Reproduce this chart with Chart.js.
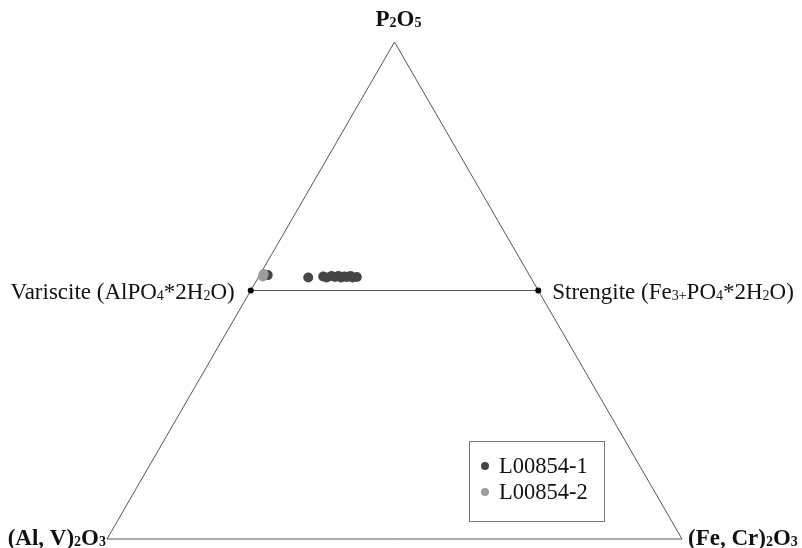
<!DOCTYPE html>
<html>
<head>
<meta charset="utf-8">
<script src="https://cdn.jsdelivr.net/npm/chart.js@4.4.1/dist/chart.umd.min.js"></script>
<style>
  html, body { margin: 0; padding: 0; background: #fff; }
  #wrap { width: 802px; height: 548px; }
</style>
</head>
<body>
<div id="wrap"><canvas id="ternary"></canvas></div>
<script>
// sample names
const seriesNames = ['L00854-1', 'L00854-2'];
const seriesColors = ['#454545', '#9c9c9c'];

// ternary fractions (P2O5 and (Fe,Cr)2O3), the rest is (Al,V)2O3
const p2o5_1 = [0.531, 0.526, 0.528, 0.526, 0.529, 0.527, 0.529, 0.526, 0.528, 0.527, 0.529, 0.526, 0.527];
const fe_1   = [0.014, 0.087, 0.112, 0.119, 0.126, 0.133, 0.138, 0.144, 0.149, 0.154, 0.159, 0.164, 0.171];
const p2o5_2 = [0.528, 0.533];
const fe_2   = [0.007, 0.006];

// corners and the variscite-strengite join [P2O5, Fe]
const corners = [[1, 0], [0, 0], [0, 1]];
const joinLine = [[0.5, 0], [0.5, 0.5]];

const H = Math.sqrt(3) / 2;
function toXY(p, fe) {
    return { x: fe + p / 2, y: p * H };
}

let pts1 = p2o5_1.map((p, i) => toXY(p, fe_1[i]));
let pts2 = p2o5_2.map((p, i) => toXY(p, fe_2[i]));
let triangle = corners.concat([corners[0]]).map(c => toXY(c[0], c[1]));
let join = joinLine.map(c => toXY(c[0], c[1]));

const serif = "'Liberation Serif', 'Times New Roman', serif";

// draw text with subscript parts: [[text, isSub], ...]
function richWidth(ctx, parts, size, bold) {
    let w = 0;
    parts.forEach(pt => {
        ctx.font = (bold ? 'bold ' : '') + (pt[1] ? Math.round(size * 0.62) : size) + 'px ' + serif;
        w += ctx.measureText(pt[0]).width;
    });
    return w;
}
function drawRich(ctx, parts, x, y, size, bold, align) {
    let w = richWidth(ctx, parts, size, bold);
    if (align === 'right') x -= w;
    if (align === 'center') x -= w / 2;
    ctx.textAlign = 'left';
    ctx.textBaseline = 'alphabetic';
    ctx.fillStyle = '#111';
    parts.forEach(pt => {
        ctx.font = (bold ? 'bold ' : '') + (pt[1] ? Math.round(size * 0.62) : size) + 'px ' + serif;
        ctx.fillText(pt[0], x, y + (pt[1] ? 1 : 0));
        x += ctx.measureText(pt[0]).width;
    });
}

const labelsPlugin = {
    id: 'ternaryLabels',
    afterDatasetsDraw(chart) {
        let ctx = chart.ctx;
        let xs = chart.scales.x, ys = chart.scales.y;
        let px = v => xs.getPixelForValue(v.x);
        let py = v => ys.getPixelForValue(v.y);
        let top = triangle[0], bl = triangle[1], br = triangle[2];
        ctx.save();
        drawRich(ctx, [['P', 0], ['2', 1], ['O', 0], ['5', 1]], px(top) + 4, py(top) - 16, 23, true, 'center');
        drawRich(ctx, [['(Al, V)', 0], ['2', 1], ['O', 0], ['3', 1]], px(bl) - 1, py(bl) + 6, 23, true, 'right');
        drawRich(ctx, [['(Fe, Cr)', 0], ['2', 1], ['O', 0], ['3', 1]], px(br) + 6, py(br) + 6, 23, true, 'left');
        drawRich(ctx, [['Variscite (AlPO', 0], ['4', 1], ['*2H', 0], ['2', 1], ['O)', 0]],
            px(join[0]) - 16, py(join[0]) + 8, 23, false, 'right');
        drawRich(ctx, [['Strengite (Fe', 0], ['3+', 1], ['PO', 0], ['4', 1], ['*2H', 0], ['2', 1], ['O)', 0]],
            px(join[1]) + 14, py(join[1]) + 8, 23, false, 'left');

        // legend box
        let a = chart.chartArea;
        let lx = a.left + 362, ly = a.top + 399;
        ctx.strokeStyle = '#777';
        ctx.lineWidth = 1;
        ctx.strokeRect(lx + 0.5, ly + 0.5, 135, 80);
        seriesNames.forEach((name, i) => {
            let cy = ly + 25 + i * 26;
            ctx.beginPath();
            ctx.arc(lx + 16, cy, 4, 0, Math.PI * 2);
            ctx.fillStyle = seriesColors[i];
            ctx.fill();
            ctx.fillStyle = '#111';
            ctx.font = '22.5px ' + serif;
            ctx.textBaseline = 'middle';
            ctx.fillText(name, lx + 30, cy + 1);
        });
        ctx.restore();
    }
};

new Chart(document.getElementById('ternary').getContext('2d'), {
    type: 'scatter',
    data: {
        datasets: [
            {
                label: 'frame',
                type: 'line',
                data: triangle,
                borderColor: '#555',
                borderWidth: 1,
                pointRadius: 0,
                fill: false,
                tension: 0,
                order: 3
            },
            {
                label: 'join',
                type: 'line',
                data: join,
                borderColor: '#555',
                borderWidth: 1,
                pointRadius: 3,
                pointBackgroundColor: '#000',
                pointBorderWidth: 0,
                fill: false,
                order: 2
            },
            {
                label: seriesNames[0],
                data: pts1,
                pointRadius: 5,
                pointBackgroundColor: seriesColors[0],
                pointBorderWidth: 0,
                order: 1
            },
            {
                label: seriesNames[1],
                data: pts2,
                pointRadius: 5,
                pointBackgroundColor: seriesColors[1],
                pointBorderWidth: 0,
                order: 0
            }
        ]
    },
    options: {
        responsive: true,
        maintainAspectRatio: false,
        animation: false,
        clip: false,
        layout: { padding: { left: 107, right: 120, top: 42, bottom: 9 } },
        plugins: {
            legend: { display: false },
            tooltip: { enabled: false }
        },
        scales: {
            x: { type: 'linear', min: 0, max: 1, display: false },
            y: { type: 'linear', min: 0, max: H, display: false }
        }
    },
    plugins: [labelsPlugin]
});
</script>
</body>
</html>
